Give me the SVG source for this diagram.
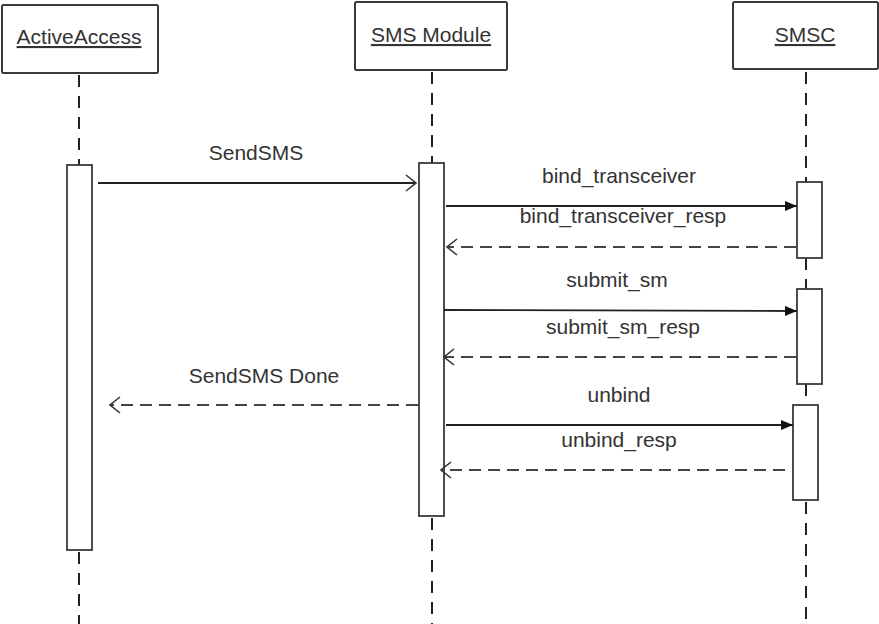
<svg xmlns="http://www.w3.org/2000/svg" width="879" height="624" viewBox="0 0 879 624">
<defs>
<style>
.box{fill:#fff;stroke:#3a3a3a;stroke-width:2}
.act{fill:#fff;stroke:#3a3a3a;stroke-width:1.8}
.life{stroke:#222;stroke-width:2;stroke-dasharray:12 9;fill:none}
.msg{stroke:#222;stroke-width:1.8;fill:none}
.ret{stroke:#444;stroke-width:1.8;stroke-dasharray:12 7;fill:none}
.t{font-family:"Liberation Sans",Arial,sans-serif;font-size:21px;fill:#333;text-anchor:middle}
.title{text-decoration:underline}
</style>
<marker id="filled" viewBox="0 0 12 10" refX="12" refY="5" markerWidth="12" markerHeight="10" markerUnits="userSpaceOnUse" orient="auto">
<path d="M0,0 L12,5 L0,10 Z" fill="#111"/>
</marker>
<marker id="open" viewBox="0 0 12 18" refX="11" refY="9" markerWidth="12" markerHeight="18" markerUnits="userSpaceOnUse" orient="auto">
<path d="M1,1 L11,9 L1,17" fill="none" stroke="#333" stroke-width="1.6"/>
</marker>
</defs>
<rect width="879" height="624" fill="#fff"/>

<g id="lifelines">
<line class="life" x1="79" y1="75" x2="79" y2="165"/>
<line class="life" x1="79" y1="552" x2="79" y2="624"/>
<line class="life" x1="432" y1="72" x2="432" y2="163"/>
<line class="life" x1="432" y1="518" x2="432" y2="624"/>
<line class="life" x1="806" y1="72" x2="806" y2="182"/>
<line class="life" x1="806" y1="258" x2="806" y2="289"/>
<line class="life" x1="806" y1="384" x2="806" y2="405"/>
<line class="life" x1="806" y1="502" x2="806" y2="624"/>
</g>

<g id="ActiveAccess">
<rect class="box" x="2" y="5" width="156" height="68" rx="1.5"/>
<text class="t title" x="79" y="44">ActiveAccess</text>
<rect class="act" x="67" y="165" width="25" height="385"/>
</g>

<g id="SMSModule">
<rect class="box" x="355" y="2" width="152" height="68" rx="1.5"/>
<text class="t title" x="431" y="42">SMS Module</text>
<rect class="act" x="419" y="163" width="25" height="353"/>
</g>

<g id="SMSC">
<rect class="box" x="733" y="2" width="145" height="67" rx="1.5"/>
<text class="t title" x="805" y="42">SMSC</text>
<rect class="act" x="797" y="182" width="25" height="76"/>
<rect class="act" x="797" y="289" width="25" height="95"/>
<rect class="act" x="793" y="405" width="25" height="95"/>
</g>

<g id="connectors">
<line class="msg" x1="98" y1="183" x2="416" y2="183" marker-end="url(#open)"/>
<text class="t" x="256" y="160">SendSMS</text>

<line class="msg" x1="446" y1="206" x2="797" y2="206" marker-end="url(#filled)"/>
<text class="t" x="619" y="183">bind_transceiver</text>

<line class="ret" x1="796" y1="247" x2="447" y2="247" marker-end="url(#open)"/>
<text class="t" x="623" y="223">bind_transceiver_resp</text>

<line class="msg" x1="444" y1="310" x2="797" y2="311" marker-end="url(#filled)"/>
<text class="t" x="617" y="287">submit_sm</text>

<line class="ret" x1="796" y1="357" x2="444" y2="357" marker-end="url(#open)"/>
<text class="t" x="623" y="334">submit_sm_resp</text>

<line class="ret" x1="418" y1="405" x2="110" y2="405" marker-end="url(#open)"/>
<text class="t" x="264" y="383">SendSMS Done</text>

<line class="msg" x1="446" y1="425" x2="793" y2="425" marker-end="url(#filled)"/>
<text class="t" x="619" y="402">unbind</text>

<line class="ret" x1="785" y1="470" x2="441" y2="470" marker-end="url(#open)"/>
<text class="t" x="619" y="447">unbind_resp</text>
</g>
</svg>
